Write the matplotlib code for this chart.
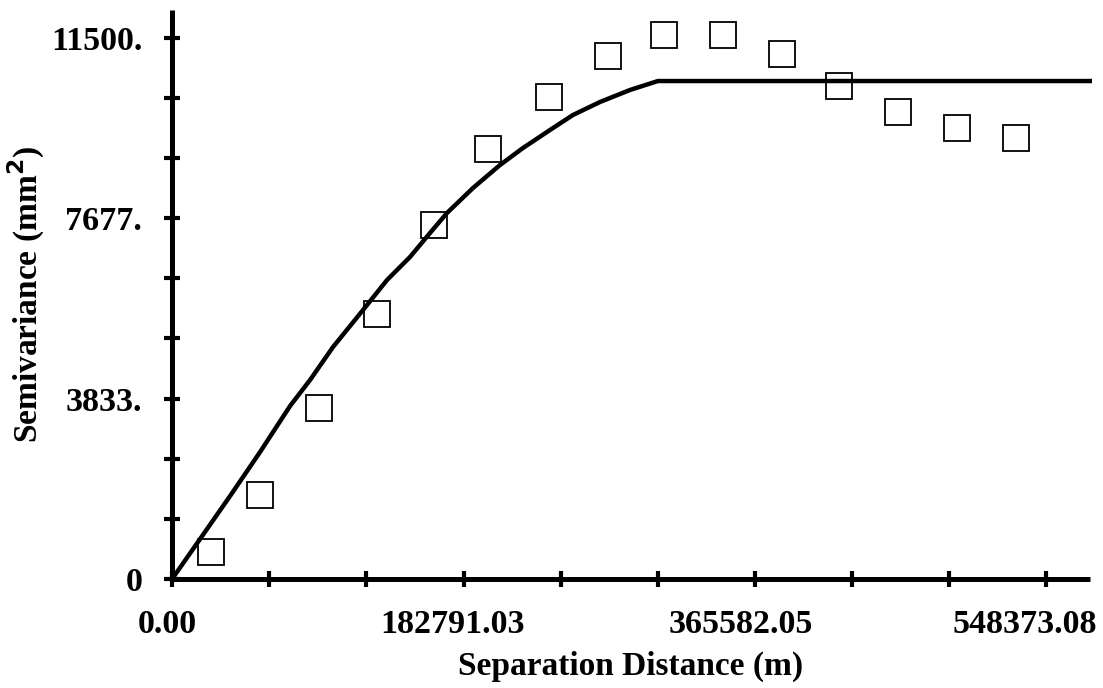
import matplotlib
matplotlib.use("Agg")
import matplotlib.pyplot as plt
from matplotlib.ticker import FixedLocator
from matplotlib.transforms import ScaledTranslation

plt.rcParams['font.family'] = ['Liberation Serif', 'DejaVu Serif']
plt.rcParams['font.weight'] = 'bold'

# experimental semivariogram (lag distance in m, semivariance in mm^2)
lag_dist = [24400, 55100, 92000, 128300, 164000, 198400, 236600, 273600,
            308600, 345700, 382700, 418500, 455000, 492500, 529300]
semivar = [580, 1790, 3640, 5640, 7520, 9130, 10240, 11110,
           11550, 11550, 11160, 10470, 9920, 9580, 9360]

# fitted model curve
model_dist = [0, 17556, 36366, 55176, 73986, 86526, 100947, 119757, 134805,
              149226, 161766, 172425, 188727, 205656, 220077, 237006,
              251427, 268356, 287166, 304722, 575586]
model_semivar = [0, 850, 1763, 2698, 3675, 4228, 4929, 5715, 6352,
                 6841, 7351, 7776, 8307, 8795, 9157, 9539,
                 9858, 10134, 10389, 10580, 10580]

x_ticks = [i * 60930.34 for i in range(10)]
x_major = [0, 182791.03, 365582.05, 548373.08]
x_labels = ['0.00', '182791.03', '365582.05', '548373.08']
x_label_shift = [-3.6, -7.9, -10, -15.8]   # labels sit a bit left of their ticks
y_ticks = [i * 1277.78 for i in range(10)]
y_major = [0, 3833.33, 7666.67, 11500]
y_labels = ['0', '3833.', '7677.', '11500.']

fig = plt.figure(figsize=(11.03, 6.88), dpi=100)
ax = fig.add_axes([0.156, 0.1584, 0.832, 0.827])

ax.plot(lag_dist, semivar, linestyle='none', marker='s', markersize=18.5,
        markerfacecolor='none', markeredgecolor='black', markeredgewidth=1.3,
        zorder=2, clip_on=False)
ax.plot(model_dist, model_semivar, color='black', linewidth=3.2, zorder=3,
        clip_on=False)

ax.set_xlim(0, 575586)
ax.set_ylim(0, 12088)

for side in ['top', 'right']:
    ax.spines[side].set_visible(False)
for side in ['left', 'bottom']:
    ax.spines[side].set_linewidth(3.6)
    ax.spines[side].set_capstyle('butt')

# every tick drawn, only some labelled
ax.xaxis.set_major_locator(FixedLocator(x_major))
ax.xaxis.set_minor_locator(FixedLocator(x_ticks))
ax.set_xticklabels(x_labels)
ax.yaxis.set_major_locator(FixedLocator(y_major))
ax.yaxis.set_minor_locator(FixedLocator(y_ticks))
ax.set_yticklabels(y_labels)

ax.tick_params(which='both', direction='inout', length=11, width=3, color='black')
ax.tick_params(axis='x', which='major', pad=16, labelsize=24.5)
ax.tick_params(axis='y', which='major', pad=16, labelsize=24.5)

for lbl, dx in zip(ax.get_xticklabels(), x_label_shift):
    lbl.set_transform(lbl.get_transform() + ScaledTranslation(dx / 72, 0, fig.dpi_scale_trans))

ax.set_xlabel('Separation Distance (m)', fontsize=24, fontweight='bold', labelpad=8)
ax.set_ylabel('Semivariance (mm$^{\\mathbf{2}}$)', fontsize=24, fontweight='bold')
ax.yaxis.set_label_coords(-0.136, 0.5)

fig.savefig('out.png', dpi=100)
